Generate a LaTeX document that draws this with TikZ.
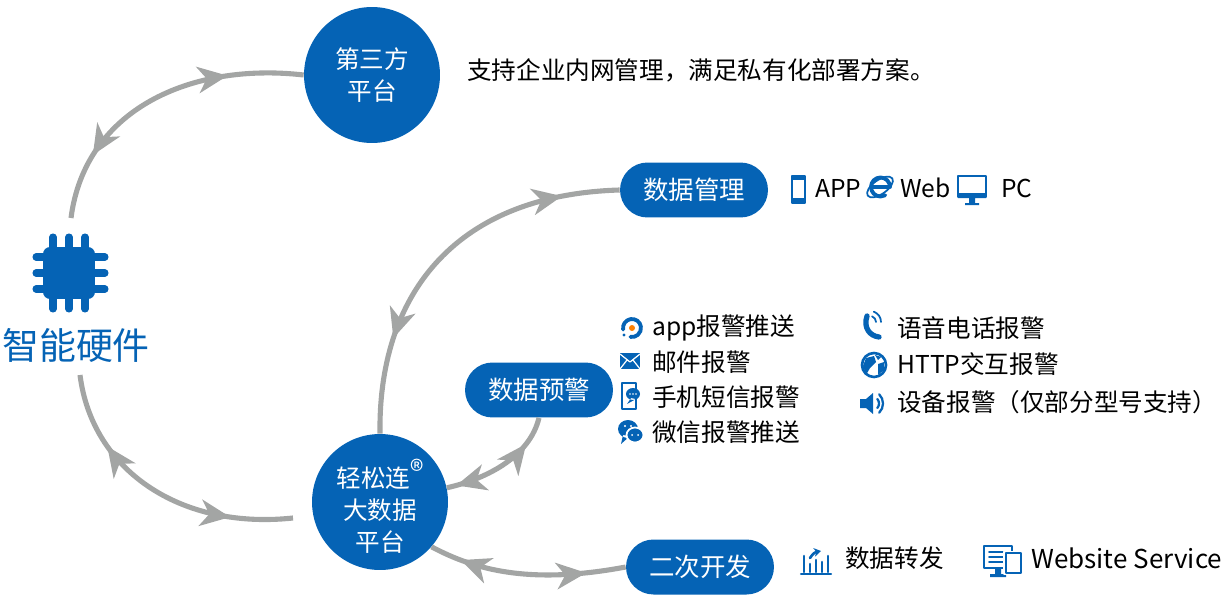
\documentclass[tikz,border=0pt]{standalone}
\usepackage{fontspec}
\setmainfont{Noto Sans CJK SC}
\usetikzlibrary{arrows.meta,decorations.markings}
\definecolor{bluefill}{HTML}{0563B5}
\definecolor{linegray}{HTML}{A3A5A4}
\tikzset{
	flowtip/.tip={Stealth[length=17pt,width=15pt,inset=5pt]},
	roundnode/.style={circle,fill=bluefill,text=white,minimum size=2.72cm,inner sep=0pt,align=center,font=\fontsize{14}{18}\selectfont},
	pillnode/.style={rectangle,rounded corners=.55cm,fill=bluefill,text=white,minimum width=2.96cm,minimum height=1.1cm,inner sep=0pt,font=\fontsize{14.5}{18}\selectfont},
	chipnode/.style={rectangle,rounded corners=4pt,fill=bluefill,minimum size=1.04cm,inner sep=0pt},
	itemtext/.style={anchor=west,inner sep=0pt,text=black,font=\fontsize{14}{18}\selectfont},
	twoway/.style 2 args={line width=2.9pt,draw=linegray,postaction={decorate},decoration={markings,
		mark=at position #1 with {\arrowreversed[linegray]{flowtip}},
		mark=at position #2 with {\arrow[linegray]{flowtip}}}},
	icon/.style={bluefill,line cap=round,line join=round}
}
\begin{document}
\begin{tikzpicture}[x=.02cm,y=-.02cm,line join=round]
	\useasboundingbox (0,0) rectangle (1229,601);
	\node [roundnode] (third) at (372,75) {第三方\\平台};
	\node [roundnode] (bigdata) at (380,502) {\rule{0pt}{1.5em}轻松连\raisebox{.25em}[0pt][0pt]{\fontsize{16}{16}\selectfont ®}\\大数据\\平台};
	\node [pillnode] (manage) at (694,190) {数据管理};
	\node [pillnode] (warn) at (539,390) {数据预警};
	\node [pillnode] (develop) at (700,567) {二次开发};
	\node [chipnode] (chip) at (69,273) {};
	\foreach \i in {-16,0,16} {
		\draw [icon,line width=4pt] ([xshift=\i*.02cm]chip.center) ++(0,-36) -- ++(0,72);
		\draw [icon,line width=4pt] ([yshift=\i*.02cm]chip.center) ++(-33,0) -- ++(69,0);
	}
	\node [text=bluefill,inner sep=0pt,font=\fontsize{21}{24}\selectfont] (hwlabel) at (76,345) {智能硬件};
	\coordinate (hwtop) at (71,218);
	\coordinate (hwbot) at (80,375);
	\coordinate (hwside) at (293,518);

	\draw [twoway={.22}{.75}] (hwtop) .. controls (85,110) and (190,62) .. (third.west);
	\draw [twoway={.27}{.78}] (hwbot) .. controls (92,470) and (180,530) .. (hwside);
	\draw [twoway={.25}{.85}] (bigdata.north) .. controls (378,300) and (450,195) .. (manage.west);
	\draw [twoway={.08}{.76}] (bigdata.12) .. controls (490,478) and (530,455) .. (warn.south);
	\draw [twoway={.16}{.80}] (bigdata.-41) .. controls (475,570) and (530,585) .. (develop.west);

	\node [itemtext] (plan) at (467,70) {支持企业内网管理，满足私有化部署方案。};
	\node [itemtext] (app) at (815,188) {APP};
	\node [itemtext] (web) at (900,188) {Web};
	\node [itemtext] (pc) at (1001,188) {PC};
	\node [itemtext] (push) at (652,328) {app报警推送};
	\node [itemtext] (mail) at (652,362) {邮件报警};
	\node [itemtext] (sms) at (652,397) {手机短信报警};
	\node [itemtext] (wechat) at (652,432) {微信报警推送};
	\node [itemtext] (voice) at (897,328) {语音电话报警};
	\node [itemtext] (http) at (897,364) {HTTP交互报警};
	\node [itemtext] (device) at (897,402) {设备报警（仅部分型号支持）};
	\node [itemtext] (forward) at (845,558) {数据转发};
	\node [itemtext,font=\fontsize{14.8}{18}\selectfont] (service) at (1031,558) {Website Service};

	% phone
	\draw [icon,line width=1.2pt] (792,176) rectangle (805,203);
	\fill [icon] (792,176) rectangle (805,180) (792,198) rectangle (805,203);
	% ie logo
	\draw [icon,line width=2.2pt] (871,187) -- (890,187) arc (0:-300:9.5);
	\draw [icon,line width=1pt,rotate around={35:(880,187)}] (880,187) ellipse (15 and 7);
	% monitor
	\draw [icon,line width=1.3pt] (958,176) rectangle (986,197);
	\fill [icon] (958,193) rectangle (986,198) (969,198) rectangle (975,203) (965,203) rectangle (979,205);
	% app push
	\draw [icon,line width=2.2pt] (632,328) ++(170:9) arc (170:460:9);
	\fill [orange] (632,328) circle (3);
	\fill [icon] (624,335) circle (1.7);
	% mail
	\fill [icon] (620,353) rectangle (640,369);
	\draw [white,line width=.7pt] (620,354) -- (630,362) -- (640,354) (620,369) -- (627,360) (640,369) -- (633,360);
	% sms
	\draw [icon,line width=1.5pt] (622,383) rectangle (636,409);
	\fill [icon] (633,394) ellipse (7 and 6) (631,398) -- (627,404) -- (636,399) -- cycle;
	\foreach \i in {630,633,636} {\fill [white] (\i,394) circle (.9);}
	% wechat
	\fill [icon] (628,429) ellipse (10 and 9) (623,435) -- (621,444) -- (630,436) -- cycle;
	\draw [white,line width=1pt,fill=bluefill] (635,435) ellipse (8.5 and 7.5);
	\foreach \i in {632,638} {\fill [white] (\i,435) circle (1);}
	\foreach \i in {625,631} {\fill [white] (\i,426) circle (1.1);}
	% telephone
	\draw [icon,line width=3pt] (867,316) .. controls (863,328) and (870,336) .. (879,337);
	\draw [icon,line width=1pt] (870,322) ++(-70:6) arc (-70:0:6) (870,322) ++(-70:11) arc (-70:0:11);
	% globe
	\draw [icon,line width=1.5pt] (874,365) circle (12);
	\fill [icon] (866,358) -- (874,356) -- (876,362) -- (870,368) -- (866,375) -- (863,366) -- cycle
		(878,364) -- (884,362) -- (884,370) -- (878,375) -- cycle (875,355) -- (881,357) -- (878,360) -- cycle;
	% speaker
	\fill [icon] (860,399) rectangle (866,408) (866,399) -- (873,393) -- (873,414) -- (866,408) -- cycle;
	\draw [icon,line width=1.3pt] (872,403.5) ++(-40:7) arc (-40:40:7) (870,403.5) ++(-45:13) arc (-45:45:13);
	% bar chart
	\draw [icon,line width=1.2pt] (801,574) -- (831,574);
	\foreach \i/\j in {804/556,810/564,816/560,822/562,828/556} {\draw [icon,line width=1.5pt] (\i,572) -- (\i,\j);}
	\draw [icon,line width=1.5pt,-{Stealth[length=4pt,width=5pt]}] (810,558) .. controls (813,553) and (816,552) .. (821,551);
	% monitor and tablet
	\draw [icon,line width=1.5pt] (984,546) rectangle (1012,568);
	\fill [icon] (995,569) rectangle (1001,574) (990,574) rectangle (1006,577);
	\foreach \j in {552,557,562} {\draw [icon,line width=1pt] (989,\j) -- (1003,\j);}
	\draw [white,fill=white,line width=1pt] (1004,552) rectangle (1022,574);
	\draw [icon,line width=1.3pt] (1006,553) rectangle (1021,573);
\end{tikzpicture}
\end{document}
